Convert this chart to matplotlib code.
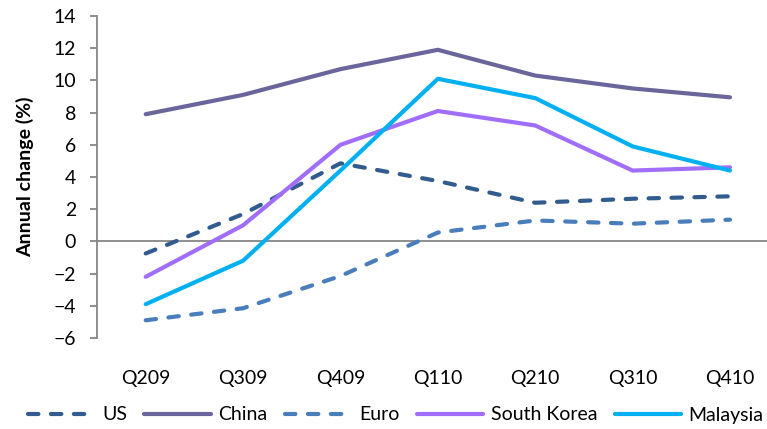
import matplotlib
matplotlib.use('Agg')
from matplotlib import pyplot as plt

# Quarterly annual change (%) by economy
quarters = ['Q209', 'Q309', 'Q409', 'Q110', 'Q210', 'Q310', 'Q410']
us = [-0.75, 1.7, 4.85, 3.75, 2.4, 2.65, 2.8]
china = [7.9, 9.1, 10.7, 11.9, 10.3, 9.5, 8.95]
euro = [-4.9, -4.15, -2.15, 0.55, 1.3, 1.1, 1.35]
south_korea = [-2.2, 1.0, 6.0, 8.1, 7.2, 4.4, 4.6]
malaysia = [-3.9, -1.2, 4.4, 10.1, 8.9, 5.9, 4.4]

plt.rcParams['font.family'] = ['Lato', 'DejaVu Sans']
fs = 14

fig = plt.figure(figsize=(7.67, 4.29), dpi=100)
ax = fig.add_axes([97/767, 91/429, 1 - 97/767, 322/429])

x = list(range(len(quarters)))
dash = dict(linestyle=(0, (2.5, 3)), dash_capstyle='round')
lw = 3

ax.plot(x, us, color='#335c8e', lw=lw, label='US', **dash)
ax.plot(x, china, color='#6a669b', lw=lw, label='China', solid_capstyle='round')
ax.plot(x, euro, color='#4a7ebb', lw=lw, label='Euro', **dash)
ax.plot(x, south_korea, color='#a06efa', lw=lw, label='South Korea', solid_capstyle='round')
ax.plot(x, malaysia, color='#00b0f0', lw=lw, label='Malaysia', solid_capstyle='round')

ax.axhline(0, color='#868686', lw=1.3, zorder=1)

ax.set_ylim(-6, 14)
ax.set_yticks(range(-6, 15, 2))
ax.set_xlim(-0.5, 6.38)
ax.set_xticks(x)
ax.set_xticklabels(quarters)

for s in ['top', 'right', 'bottom']:
    ax.spines[s].set_visible(False)
ax.spines['left'].set_color('#868686')
ax.spines['left'].set_linewidth(1.3)

ax.tick_params(axis='y', length=5, width=1.3, color='#868686', pad=10, labelsize=fs)
ax.tick_params(axis='x', length=0, pad=23, labelsize=fs)
ax.set_ylabel('Annual change (%)', fontsize=fs, fontweight='bold', labelpad=14)

fig.legend(loc='center', bbox_to_anchor=(0.516, 1 - 415/429), ncol=5, frameon=False,
           fontsize=fs, handlelength=3.4, handletextpad=0.4, columnspacing=0.9)

fig.savefig('out.png', dpi=100)
